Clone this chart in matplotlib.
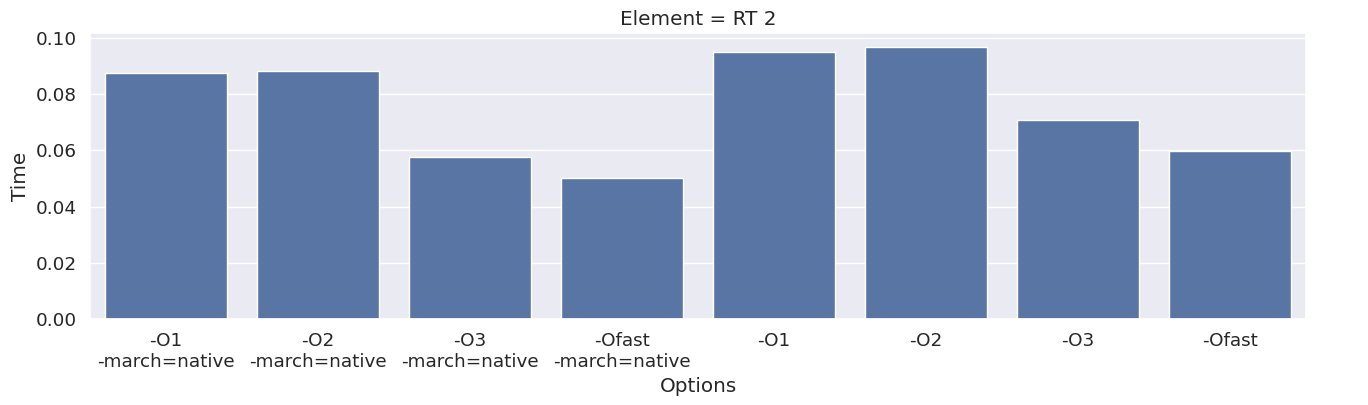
import matplotlib
matplotlib.use("Agg")
import matplotlib.pyplot as plt
import seaborn as sns
import pandas as pd

sns.set_theme(style="darkgrid", font_scale=1.2)

options = ["-O1\n-march=native", "-O2\n-march=native", "-O3\n-march=native",
           "-Ofast\n-march=native", "-O1", "-O2", "-O3", "-Ofast"]
times = [0.0874, 0.0883, 0.0576, 0.0501, 0.0951, 0.0969, 0.0709, 0.0597]

df = pd.DataFrame({"Options": options, "Time": times})

fig, ax = plt.subplots(figsize=(13.68, 4.05), dpi=100)
fig.subplots_adjust(left=0.0658, right=0.9547, top=0.9185, bottom=0.2123)
sns.barplot(data=df, x="Options", y="Time", color=sns.color_palette()[0], ax=ax)
ax.set_title("Element = RT 2")

fig.savefig("out.png", dpi=100)
